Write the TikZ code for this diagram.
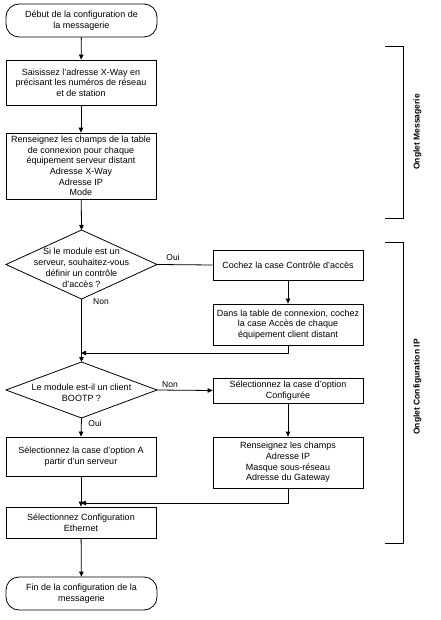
\documentclass[tikz,border=0pt]{standalone}
\usepackage{fontspec}
\setmainfont{Liberation Sans}
\usetikzlibrary{shapes.geometric,arrows.meta}
\begin{document}
\begin{tikzpicture}[x=1pt,y=-1pt,
  box/.style={draw, line width=0.8pt, minimum width=150pt, inner sep=1pt, align=center, font=\fontsize{9}{10.6}\selectfont},
  term/.style={box, rounded corners=13pt},
  dia/.style={draw, diamond, inner sep=0pt, outer sep=0pt, line width=0.8pt, minimum width=151pt},
  dtext/.style={align=center, inner sep=0pt, font=\fontsize{9}{11}\selectfont},
  arr/.style={-{Triangle[length=5pt,width=4.5pt]}, line width=0.8pt},
  ln/.style={line width=0.8pt},
  lbl/.style={inner sep=0pt, font=\fontsize{8.5}{10}\selectfont},
  tab/.style={rotate=90, inner sep=0pt, font=\bfseries\fontsize{8.5}{10}\selectfont}]
\useasboundingbox (0,0) rectangle (440,620);

\node[term, minimum height=33pt, minimum width=151pt] (start) at (81.5,20.5) {Début de la configuration de\\la messagerie};
\node[box, minimum height=45pt] (xway) at (81,82.5) {Saisissez l'adresse X-Way en\\précisant les numéros de réseau\\et de station};
\node[box, minimum height=66pt] (table) at (81,166) {Renseignez les champs de la table\\de connexion pour chaque\\équipement serveur distant\\Adresse  X-Way\\Adresse IP\\Mode};
\node[dia, minimum height=69pt] (d1) at (81.5,264.5) {};
\node[dtext] (d1t) at (81.5,268) {Si le module est un\\serveur, souhaitez-vous\\définir un contrôle\\d'accès ?};
\node[box, minimum height=30pt] (coch) at (288,265) {Cochez la case Contrôle d'accès};
\node[box, minimum height=41pt] (dans) at (288,324.5) {Dans la table de connexion, cochez\\la case Accès de chaque\\équipement client distant};
\node[dia, minimum height=56pt] (d2) at (81.5,390) {};
\node[dtext] (d2t) at (81.5,392.5) {Le module est-il un client\\BOOTP ?};
\node[box, minimum height=25pt] (conf) at (288,390.5) {Sélectionnez la case d'option\\Configurée};
\node[box, minimum height=51pt] (ip) at (288,462.5) {Renseignez les champs\\Adresse IP\\Masque sous-réseau\\Adresse du Gateway};
\node[box, minimum height=39pt] (serv) at (81,456.5) {Sélectionnez la case d'option A\\partir d'un serveur};
\node[box, minimum height=31pt] (eth) at (81,522.5) {Sélectionnez Configuration\\Ethernet};
\node[term, minimum height=33pt, minimum width=151pt] (fin) at (81.5,593.5) {Fin de la configuration de la\\messagerie};

\coordinate (j1) at (81,353);
\coordinate (j2) at (81,503);

\draw[arr] (start) -- (xway);
\draw[arr] (xway) -- (table);
\draw[arr] (table) -- (d1.north);
\draw[ln] (d1.east) -- (coch.west);
\draw[arr] (coch) -- (dans);
\draw[arr] (dans.south) |- (j1);
\draw[arr] (d1.south) -- (d2.north);
\draw[arr] (d2.east) -- (conf.west);
\draw[arr] (conf) -- (ip);
\draw[arr] (ip.south) |- (j2);
\draw[arr] (d2.south) -- (serv.north);
\draw[arr] (serv) -- (eth);
\draw[arr] (eth) -- (fin);

\node[lbl] (oui1) at (173,257) {Oui};
\node[lbl] (non1) at (101,302) {Non};
\node[lbl] (non2) at (170,385) {Non};
\node[lbl] (oui2) at (95,423) {Oui};

\coordinate (b1a) at (385,46);
\coordinate (b1b) at (403,46);
\coordinate (b1c) at (403,218);
\coordinate (b1d) at (385,218);
\draw[ln] (b1a) -- (b1b) -- (b1c) -- (b1d);
\node[tab] (tab1) at (417.5,132) {Onglet Messagerie};

\coordinate (b2a) at (385,242);
\coordinate (b2b) at (403,242);
\coordinate (b2c) at (403,543);
\coordinate (b2d) at (385,543);
\draw[ln] (b2a) -- (b2b) -- (b2c) -- (b2d);
\node[tab] (tab2) at (417.5,387) {Onglet Configuration IP};
\end{tikzpicture}
\end{document}
